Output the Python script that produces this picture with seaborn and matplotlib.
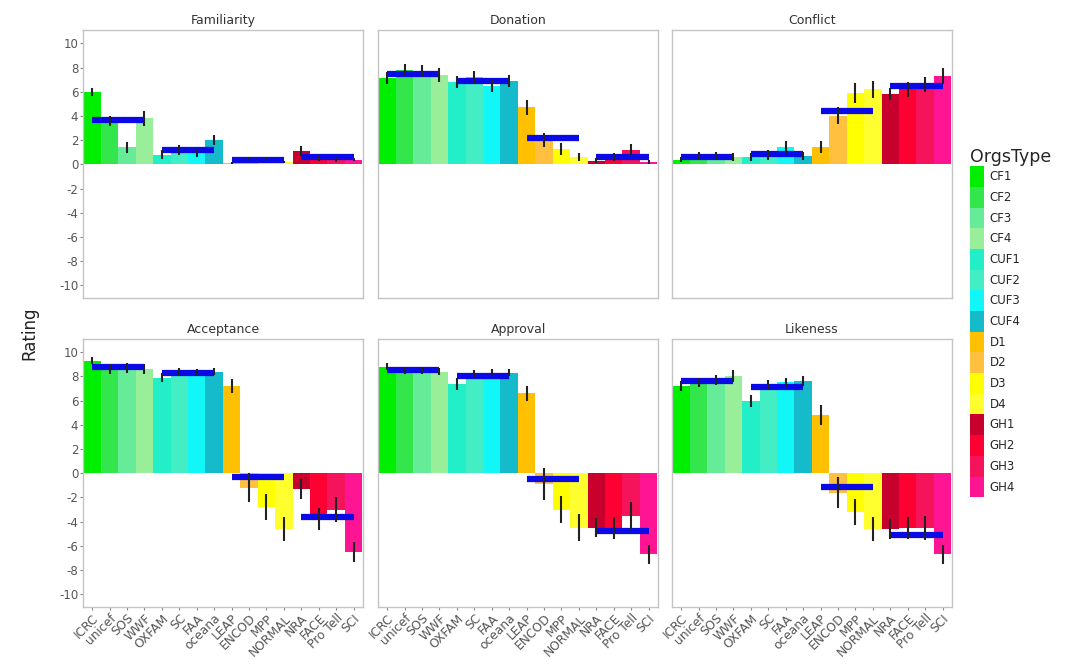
import numpy as np
import pandas as pd
import matplotlib
matplotlib.use("Agg")
import matplotlib.pyplot as plt
from matplotlib.patches import Patch
import seaborn as sns

# organisations and their type codes
orgs = ['ICRC', 'unicef', 'SOS', 'WWF', 'OXFAM', 'SC', 'FAA', 'oceana',
        'LEAP', 'ENCOD', 'MPP', 'NORMAL', 'NRA', 'FACE', 'Pro Tell', 'SCI']
types = ['CF1', 'CF2', 'CF3', 'CF4', 'CUF1', 'CUF2', 'CUF3', 'CUF4',
         'D1', 'D2', 'D3', 'D4', 'GH1', 'GH2', 'GH3', 'GH4']
type_colors = ['#00EE00', '#33E64C', '#66EC99', '#99EE99',
               '#22EEC8', '#44EEC4', '#11F6F6', '#15BBCA',
               '#FFC000', '#FFC040', '#FFFF00', '#FFFF30',
               '#C8002E', '#FF0033', '#F5145C', '#FF1493']

measures = ['Familiarity', 'Donation', 'Conflict', 'Acceptance', 'Approval', 'Likeness']

# mean ratings
familiarity = [6.0, 3.6, 1.4, 3.8, 0.8, 1.2, 0.9, 2.0, 0.1, 0.5, 0.5, 0.2, 1.1, 0.5, 0.4, 0.4]
donation = [7.1, 7.8, 7.7, 7.4, 6.8, 7.2, 6.5, 6.9, 4.7, 2.0, 1.3, 0.6, 0.3, 0.6, 1.2, 0.2]
conflict = [0.4, 0.7, 0.7, 0.6, 0.6, 0.8, 1.4, 0.7, 1.4, 4.0, 5.9, 6.2, 5.8, 6.2, 6.6, 7.3]
acceptance = [9.3, 8.6, 8.7, 8.6, 7.9, 8.4, 8.3, 8.4, 7.2, -1.2, -2.8, -4.6, -1.3, -3.8, -3.0, -6.5]
approval = [8.8, 8.5, 8.5, 8.4, 7.4, 8.2, 8.3, 8.3, 6.6, -0.9, -3.0, -4.5, -4.5, -4.5, -3.5, -6.7]
likeness = [7.2, 7.5, 7.7, 8.0, 6.0, 7.3, 7.5, 7.6, 4.8, -1.6, -3.2, -4.6, -4.6, -4.5, -4.5, -6.7]

# standard errors (half length of the black bars)
familiarity_se = [0.35, 0.4, 0.45, 0.6, 0.35, 0.4, 0.3, 0.4, 0.1, 0.15, 0.15, 0.1, 0.4, 0.25, 0.2, 0.15]
donation_se = [0.5, 0.5, 0.5, 0.6, 0.5, 0.5, 0.55, 0.5, 0.6, 0.6, 0.5, 0.3, 0.2, 0.3, 0.5, 0.2]
conflict_se = [0.2, 0.3, 0.3, 0.3, 0.3, 0.4, 0.5, 0.3, 0.5, 0.7, 0.8, 0.7, 0.5, 0.6, 0.6, 0.7]
acceptance_se = [0.3, 0.4, 0.4, 0.4, 0.4, 0.3, 0.3, 0.3, 0.6, 1.2, 1.1, 1.0, 0.8, 0.9, 1.0, 0.8]
approval_se = [0.3, 0.3, 0.3, 0.3, 0.5, 0.3, 0.3, 0.3, 0.6, 1.3, 1.1, 1.1, 0.8, 0.9, 1.1, 0.8]
likeness_se = [0.4, 0.4, 0.4, 0.5, 0.5, 0.4, 0.4, 0.4, 0.8, 1.3, 1.1, 1.0, 0.8, 0.9, 1.0, 0.8]

values = [familiarity, donation, conflict, acceptance, approval, likeness]
errors = [familiarity_se, donation_se, conflict_se, acceptance_se, approval_se, likeness_se]

rows = []
for m, vals, errs in zip(measures, values, errors):
    for o, t, v, e in zip(orgs, types, vals, errs):
        rows.append({'Measure': m, 'Org': o, 'OrgsType': t, 'Rating': v, 'SE': e})
df = pd.DataFrame(rows)
pal = dict(zip(types, type_colors))

sns.set_style('white')
plt.rcParams['font.family'] = ['DejaVu Sans']
plt.rcParams['axes.unicode_minus'] = False

fig = plt.figure(figsize=(10.65, 6.67), dpi=100)
lefts = [0.078, 0.355, 0.631]
bottoms = [0.553, 0.090]
w, h = 0.263, 0.402

for i, m in enumerate(measures):
    r, c = divmod(i, 3)
    ax = fig.add_axes([lefts[c], bottoms[r], w, h])
    sub = df[df['Measure'] == m]
    sns.barplot(data=sub, x='Org', y='Rating', hue='OrgsType', order=orgs,
                hue_order=types, palette=pal, dodge=False, width=1,
                errorbar=None, saturation=1, legend=False, linewidth=0, ax=ax)
    x = np.arange(len(orgs))
    ax.vlines(x, sub['Rating'] - sub['SE'], sub['Rating'] + sub['SE'],
              color='#222222', lw=1.5, zorder=5)
    # group means in blue
    grp = np.array(sub['Rating']).reshape(4, 4).mean(axis=1)
    for g in range(4):
        ax.hlines(grp[g], x[g * 4], x[g * 4 + 3], color='#0A0AE6', lw=4.5, zorder=4)

    ax.set_xlim(-0.52, 15.55)
    ax.set_ylim(-11.05, 11.1)
    ax.set_yticks(range(-10, 11, 2))
    ax.set_title(m, fontsize=9, color='#333333', pad=4)
    ax.set_xlabel('')
    ax.set_ylabel('')
    for s in ax.spines.values():
        s.set_color('#C4C4C4')
        s.set_linewidth(1.0)
    if c == 0:
        ax.tick_params(axis='y', left=True, length=2.5, width=0.8, color='#888888',
                       labelsize=8.5, labelcolor='#555555', pad=1)
    else:
        ax.tick_params(axis='y', left=False, labelleft=False)
    if r == 1:
        ax.tick_params(axis='x', bottom=True, length=2.5, width=0.8, color='#888888',
                       labelsize=8.8, labelcolor='#555555', pad=1)
        plt.setp(ax.get_xticklabels(), rotation=45, ha='right', rotation_mode='anchor')
    else:
        ax.tick_params(axis='x', bottom=False, labelbottom=False)

fig.text(0.028, 0.5, 'Rating', rotation=90, va='center', ha='center',
         fontsize=12, color='#222222')

handles = [Patch(facecolor=col, edgecolor='none', label=t) for t, col in zip(types, type_colors)]
leg = fig.legend(handles=handles, loc='upper left', bbox_to_anchor=(0.906, 0.785),
                 frameon=False, title='OrgsType', fontsize=8.5, title_fontsize=12.5,
                 handlelength=1.2, handleheight=2.32, labelspacing=0,
                 handletextpad=0.5, borderaxespad=0)
leg._legend_box.align = 'left'

fig.savefig('out.png', dpi=100)
